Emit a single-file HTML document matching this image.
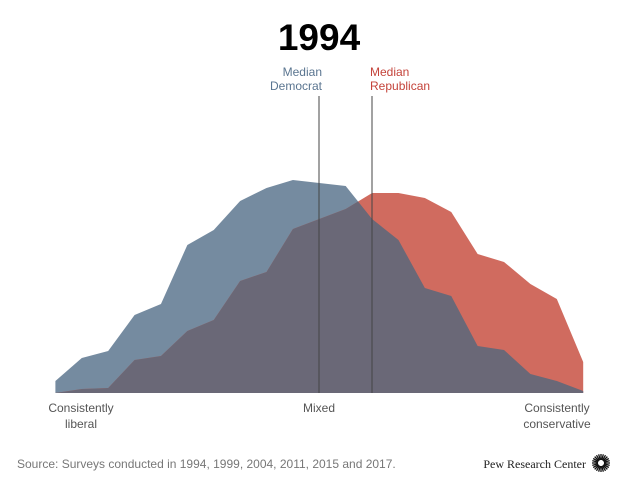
<!DOCTYPE html>
<html><head><meta charset="utf-8"><style>
body{margin:0;background:#fff;width:640px;height:487px;overflow:hidden;font-family:"Liberation Sans",sans-serif}
</style></head><body>
<svg width="640" height="487" viewBox="0 0 640 487">
<text x="319" y="50" text-anchor="middle" font-size="37" font-weight="bold" fill="#000">1994</text>
<g id="areas"></g>
<line x1="319" y1="96" x2="319" y2="393" stroke="#444" stroke-width="1"/>
<line x1="372" y1="96" x2="372" y2="393" stroke="#444" stroke-width="1"/>
<text font-size="12" fill="#5a7590" text-anchor="end"><tspan x="322" y="76">Median</tspan><tspan x="322" y="90">Democrat</tspan></text>
<text font-size="12" fill="#c4433a"><tspan x="370" y="76">Median</tspan><tspan x="370" y="90">Republican</tspan></text>
<text font-size="12" fill="#555" text-anchor="middle"><tspan x="81" y="412">Consistently</tspan><tspan x="81" y="428">liberal</tspan></text>
<text x="319" y="412" font-size="12" fill="#555" text-anchor="middle">Mixed</text>
<text font-size="12" fill="#555" text-anchor="middle"><tspan x="557" y="412">Consistently</tspan><tspan x="557" y="428">conservative</tspan></text>
<text x="17" y="468" font-size="12" fill="#777">Source: Surveys conducted in 1994, 1999, 2004, 2011, 2015 and 2017.</text>
<text x="586" y="468" font-size="12" fill="#222" text-anchor="end" font-family="Liberation Serif, serif">Pew Research Center</text>
<g id="sun"></g>
</svg>
<script>
const positions = ["1","2","3","4","5","6","7","8","9","10","11","12","13","14","15","16","17","18","19","20","21"];
const democrats = [12,35,42,78,89,148,163,192,205,213,210,207,174,153,105,97,47,43,19,12,2];
const republicans = [0,4,5,33,37,62,73,112,121,164,174,184,200,200,195,181,139,131,109,94,31];
const x0=55.4, x1=583.2, base=393, yMax=223;
const xs=i=>x0+(x1-x0)*i/(positions.length-1);
const ys=v=>base-v*(base-170)/yMax;
const NS="http://www.w3.org/2000/svg";
const g=document.getElementById('areas');
function pts(arr){let p=[[x0,base]];arr.forEach((v,i)=>p.push([xs(i),ys(v)]));p.push([x1,base]);return p.map(a=>a.join(',')).join(' ');}
const defs=document.createElementNS(NS,'defs');
const cp=document.createElementNS(NS,'clipPath');cp.setAttribute('id','demclip');
const cpp=document.createElementNS(NS,'polygon');cpp.setAttribute('points',pts(democrats));cp.appendChild(cpp);defs.appendChild(cp);g.appendChild(defs);
const dem=document.createElementNS(NS,'polygon');


dem.setAttribute('points',pts(democrats));dem.setAttribute('fill','#758ba0');g.appendChild(dem);
const rep=document.createElementNS(NS,'polygon');


rep.setAttribute('points',pts(republicans));rep.setAttribute('fill','#d06b5f');g.appendChild(rep);
const ov=document.createElementNS(NS,'polygon');


ov.setAttribute('points',pts(republicans));ov.setAttribute('fill','#6a6877');ov.setAttribute('clip-path','url(#demclip)');g.appendChild(ov);
const sun=document.getElementById('sun');
for(let k=0;k<24;k++){const a=k*Math.PI/12;const l=document.createElementNS(NS,'line');


l.setAttribute('x1',601+3*Math.cos(a));l.setAttribute('y1',463+3*Math.sin(a));l.setAttribute('x2',601+9*Math.cos(a));l.setAttribute('y2',463+9*Math.sin(a));l.setAttribute('stroke','#111');l.setAttribute('stroke-width','1.3');sun.appendChild(l);}
</script>
</body></html>
